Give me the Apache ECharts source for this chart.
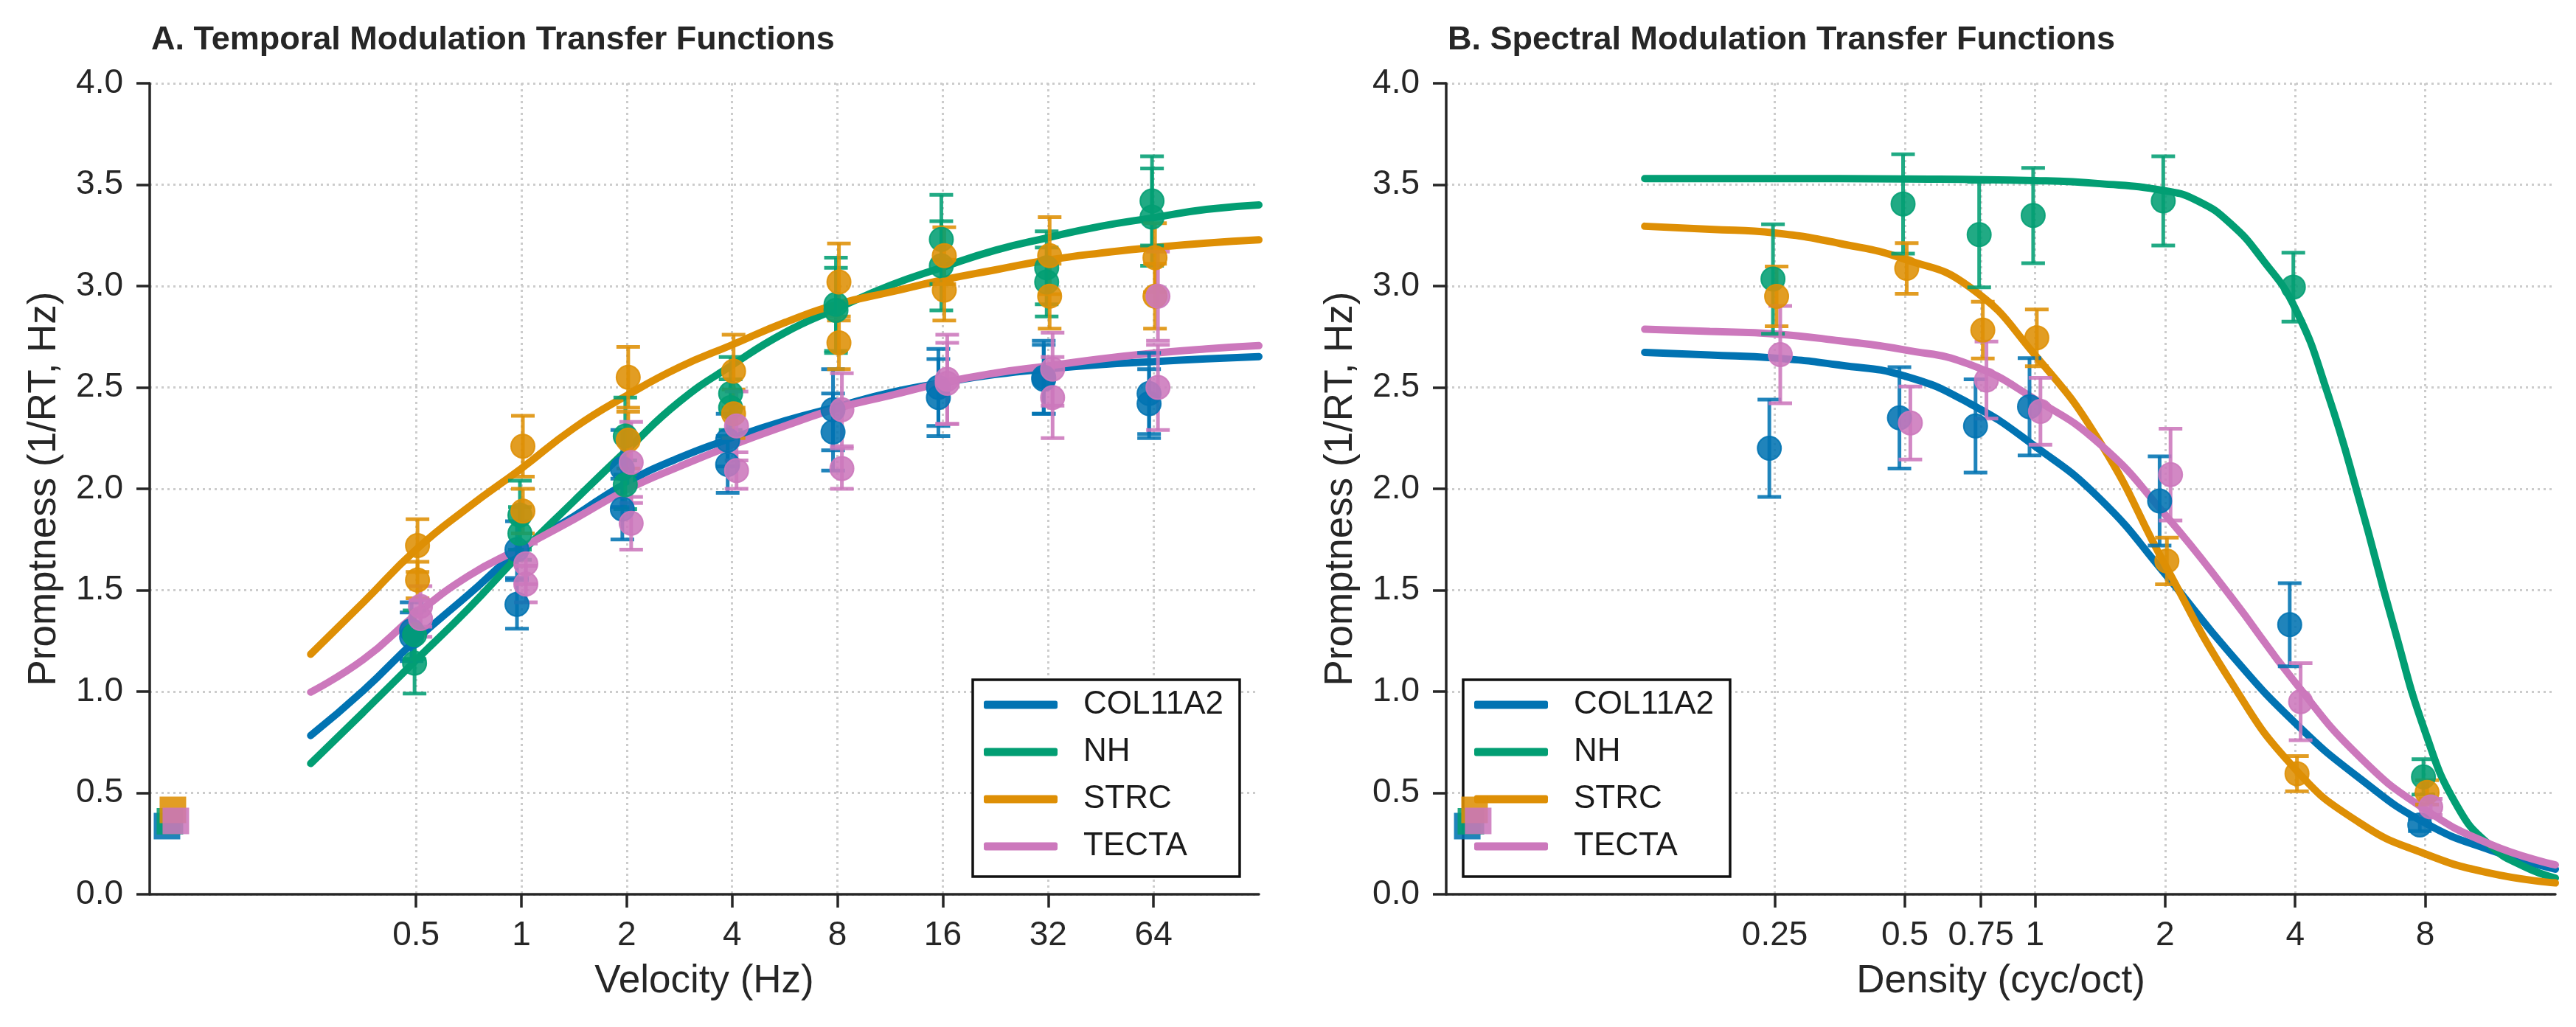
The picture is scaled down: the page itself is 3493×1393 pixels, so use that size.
<!DOCTYPE html>
<html>
<head>
<meta charset="utf-8">
<title>Modulation Transfer Functions</title>
<script src="https://cdn.jsdelivr.net/npm/echarts@6.0.0/dist/echarts.min.js"></script>
<style>
    html, body { margin: 0; padding: 0; background: #fff; }
    #mtfChart { width: 3493px; height: 1393px; }
</style>
</head>
<body>
<div id="mtfChart"></div>
<script>
var groupNames = ['COL11A2', 'NH', 'STRC', 'TECTA'];
var groupColors = ['#0173b2', '#029e73', '#de8f05', '#cc78bc'];

// baseline (unmodulated) promptness, shown as squares in both panels
var baseline = [0.336, 0.36, 0.416, 0.362];
var tmBaselineX = 0.1;
var smBaselineX = 0.05;

// ---- A. temporal: two measurements per velocity ----
var tmVelocity = [0.5, 1, 2, 4, 8, 16, 32, 64];
var tmTicks = [0.5, 1, 2, 4, 8, 16, 32, 64];
var tmCOL11A2 = [[1.30, 1.27], [1.70, 1.43], [2.10, 1.90], [2.24, 2.12], [2.39, 2.28], [2.50, 2.45], [2.55, 2.54], [2.47, 2.42]];
var tmCOL11A2Err = [[0.14, 0.12], [0.14, 0.12], [0.19, 0.15], [0.13, 0.14], [0.20, 0.19], [0.19, 0.19], [0.18, 0.17], [0.20, 0.17]];
var tmNH = [[1.28, 1.14], [1.87, 1.78], [2.26, 2.02], [2.47, 2.40], [2.91, 2.88], [3.23, 3.10], [3.09, 3.02], [3.42, 3.34]];
var tmNHErr = [[0.12, 0.15], [0.17, 0.13], [0.19, 0.12], [0.18, 0.14], [0.23, 0.21], [0.22, 0.22], [0.18, 0.17], [0.22, 0.24]];
var tmSTRC = [[1.72, 1.55], [2.21, 1.89], [2.55, 2.24], [2.58, 2.37], [3.02, 2.72], [3.15, 2.98], [3.15, 2.95], [3.14, 2.95]];
var tmSTRCErr = [[0.13, 0.09], [0.15, 0.11], [0.15, 0.14], [0.18, 0.12], [0.19, 0.13], [0.14, 0.15], [0.19, 0.16], [0.17, 0.16]];
var tmTECTA = [[1.42, 1.36], [1.63, 1.53], [2.13, 1.83], [2.31, 2.09], [2.39, 2.10], [2.54, 2.52], [2.59, 2.45], [2.95, 2.50]];
var tmTECTAErr = [[0.10, 0.09], [0.10, 0.09], [0.20, 0.13], [0.17, 0.09], [0.18, 0.10], [0.22, 0.20], [0.18, 0.20], [0.22, 0.21]];

// fitted curves, read every half octave (x in log2 Hz)
var tmFitOct = [-2, -1.5, -1, -0.5, 0, 0.5, 1, 1.5, 2, 2.5, 3, 3.5, 4, 4.5, 5, 5.5, 6, 6.5, 7];
var tmFitCOL11A2 = [0.783, 1.005, 1.255, 1.479, 1.703, 1.865, 2.03, 2.153, 2.25, 2.335, 2.405, 2.474, 2.523, 2.564, 2.592, 2.613, 2.627, 2.641, 2.652];
var tmFitNH = [0.645, 0.898, 1.155, 1.41, 1.685, 1.94, 2.19, 2.43, 2.61, 2.77, 2.89, 3.003, 3.093, 3.177, 3.239, 3.295, 3.337, 3.378, 3.40];
var tmFitSTRC = [1.184, 1.44, 1.70, 1.91, 2.10, 2.30, 2.46, 2.60, 2.71, 2.82, 2.91, 2.97, 3.03, 3.08, 3.128, 3.163, 3.19, 3.212, 3.228];
var tmFitTECTA = [0.997, 1.158, 1.38, 1.571, 1.71, 1.85, 1.995, 2.11, 2.215, 2.31, 2.397, 2.46, 2.523, 2.571, 2.606, 2.641, 2.669, 2.69, 2.706];

// ---- B. spectral ----
var smDensity = [0.25, 0.5, 0.75, 1, 2, 4, 8];
var smTicks = [0.25, 0.5, 0.75, 1, 2, 4, 8];
var smCOL11A2 = [2.20, 2.35, 2.31, 2.405, 1.94, 1.33, 0.342];
var smCOL11A2Err = [0.24, 0.25, 0.23, 0.24, 0.22, 0.205, 0.03];
var smNH = [3.035, 3.405, 3.254, 3.348, 3.42, 2.995, 0.579];
var smNHErr = [0.27, 0.245, 0.26, 0.235, 0.22, 0.17, 0.087];
var smSTRC = [2.949, 3.087, 2.783, 2.745, 1.644, 0.595, 0.503];
var smSTRCErr = [0.147, 0.125, 0.14, 0.14, 0.115, 0.087, 0.06];
var smTECTA = [2.662, 2.325, 2.536, 2.382, 2.07, 0.95, 0.431];
var smTECTAErr = [0.24, 0.18, 0.19, 0.165, 0.226, 0.19, 0.04];

var smFitOct = [-3, -2.5, -2, -1.5, -1, -0.5, 0, 0.5, 1, 1.5, 2, 2.5, 3, 3.5, 4];
var smFitOctNH = [-3, -2, -1, 0, 0.5, 1, 1.25, 1.5, 1.75, 2, 2.25, 2.5, 2.75, 3, 3.25, 3.5, 3.75, 4];
var smFitCOL11A2 = [2.673, 2.66, 2.645, 2.61, 2.556, 2.42, 2.21, 1.95, 1.58, 1.188, 0.845, 0.57, 0.351, 0.218, 0.124];
var smFitNH = [3.53, 3.53, 3.528, 3.52, 3.505, 3.47, 3.42, 3.31, 3.13, 2.89, 2.47, 1.93, 1.34, 0.80, 0.43, 0.24, 0.14, 0.08];
var smFitSTRC = [3.295, 3.28, 3.262, 3.21, 3.132, 2.994, 2.66, 2.23, 1.625, 1.055, 0.618, 0.351, 0.199, 0.104, 0.056];
var smFitTECTA = [2.787, 2.776, 2.764, 2.73, 2.685, 2.613, 2.442, 2.22, 1.873, 1.473, 1.045, 0.675, 0.418, 0.247, 0.145];

var yTicks = [0, 0.5, 1, 1.5, 2, 2.5, 3, 3.5, 4];


var mtfChart = {};
mtfChart.font = 'Liberation Sans, Arial, sans-serif';
mtfChart.ink = '#262626';
// small horizontal dodge per group, in octaves
mtfChart.jitter = [-0.042, -0.014, 0.014, 0.042];

mtfChart.oct = function (v) {
    return Math.log(v) / Math.LN2;
};

mtfChart.renderErrorBar = function (params, api) {
    var x = api.value(0);
    var top = api.coord([x, api.value(2)]);
    var bottom = api.coord([x, api.value(1)]);
    var half = 16;
    var style = { stroke: api.visual('color'), lineWidth: 5, opacity: 0.88 };
    return {
        type: 'group',
        children: [
            { type: 'line', shape: { x1: top[0], y1: top[1], x2: bottom[0], y2: bottom[1] }, style: style },
            { type: 'line', shape: { x1: top[0] - half, y1: top[1], x2: top[0] + half, y2: top[1] }, style: style },
            { type: 'line', shape: { x1: bottom[0] - half, y1: bottom[1], x2: bottom[0] + half, y2: bottom[1] }, style: style }
        ]
    };
};

mtfChart.panelSeries = function (p, xs, means, errs, fitOct, fits, baseX) {
    var series = [];
    for (var g = 0; g < groupNames.length; g++) {
        var color = groupColors[g];
        var off = mtfChart.jitter[g];
        var curve = [];
        for (var c = 0; c < fitOct[g].length; c++) {
            curve.push([fitOct[g][c], fits[g][c]]);
        }
        series.push({
            name: groupNames[g],
            type: 'line',
            xAxisIndex: p, yAxisIndex: p,
            data: curve,
            smooth: 0.5,
            showSymbol: false,
            silent: true,
            color: color,
            lineStyle: { color: color, width: 10, cap: 'round' },
            z: 2
        });
        var pts = [], bars = [];
        for (var i = 0; i < xs.length; i++) {
            var m = [].concat(means[g][i]);
            var e = [].concat(errs[g][i]);
            for (var k = 0; k < m.length; k++) {
                var x = mtfChart.oct(xs[i]) + off;
                pts.push([x, m[k]]);
                bars.push([x, m[k] - e[k], m[k] + e[k]]);
            }
        }
        series.push({
            name: groupNames[g] + ' sem',
            type: 'custom',
            xAxisIndex: p, yAxisIndex: p,
            renderItem: mtfChart.renderErrorBar,
            encode: { x: 0, y: [1, 2] },
            itemStyle: { color: color },
            data: bars,
            silent: true,
            z: 3
        });
        series.push({
            name: groupNames[g] + ' mean',
            type: 'scatter',
            xAxisIndex: p, yAxisIndex: p,
            symbol: 'circle',
            symbolSize: 32,
            itemStyle: { color: color, opacity: 0.88, borderColor: color, borderWidth: 2 },
            data: pts,
            silent: true,
            z: 4
        });
        series.push({
            name: groupNames[g] + ' baseline',
            type: 'scatter',
            xAxisIndex: p, yAxisIndex: p,
            symbol: 'rect',
            symbolSize: 36,
            itemStyle: { color: color, opacity: 0.88 },
            data: [[mtfChart.oct(baseX) + off, baseline[g]]],
            silent: true,
            z: 10
        });
    }
    return series;
};

mtfChart.xAxis = function (p, min, max, ticks, name) {
    var vals = ticks.map(mtfChart.oct);
    return {
        type: 'value', gridIndex: p, min: min, max: max,
        name: name, nameLocation: 'middle', nameGap: 92,
        nameTextStyle: { fontFamily: mtfChart.font, fontSize: 53, color: mtfChart.ink },
        axisLine: { show: true, onZero: false, lineStyle: { color: mtfChart.ink, width: 3.5 } },
        axisTick: { show: true, customValues: vals, length: 18, lineStyle: { color: mtfChart.ink, width: 3.5 } },
        axisLabel: {
            customValues: vals, margin: 33,
            fontFamily: mtfChart.font, fontSize: 46, color: mtfChart.ink,
            formatter: function (v) { return String(parseFloat(Math.pow(2, v).toFixed(3))); }
        },
        splitLine: { show: true, lineStyle: { color: '#cccccc', width: 3, type: [3, 5] } }
    };
};

mtfChart.yAxis = function (p) {
    return {
        type: 'value', gridIndex: p, min: yTicks[0], max: yTicks[yTicks.length - 1], interval: 0.5,
        name: 'Promptness (1/RT, Hz)', nameLocation: 'middle', nameGap: 116,
        nameTextStyle: { fontFamily: mtfChart.font, fontSize: 53, color: mtfChart.ink },
        axisLine: { show: true, onZero: false, lineStyle: { color: mtfChart.ink, width: 3.5 } },
        axisTick: { show: true, length: 18, lineStyle: { color: mtfChart.ink, width: 3.5 } },
        axisLabel: {
            margin: 36, fontFamily: mtfChart.font, fontSize: 46, color: mtfChart.ink,
            formatter: function (v) { return v.toFixed(1); }
        },
        splitLine: { show: true, lineStyle: { color: '#cccccc', width: 3, type: [3, 5] } }
    };
};

mtfChart.legend = function (left) {
    return {
        data: groupNames,
        orient: 'vertical',
        left: left, top: 922,
        padding: [12, 22, 19, 15],
        itemWidth: 100, itemHeight: 11, itemGap: 20,
        icon: 'roundRect',
        backgroundColor: '#fff',
        borderColor: '#111', borderWidth: 3.5, borderRadius: 0,
        selectedMode: false,
        textStyle: { fontFamily: mtfChart.font, fontSize: 44, lineHeight: 44, color: '#1a1a1a', padding: [0, 0, 0, 30] }
    };
};

mtfChart.render = function () {
    var chart = echarts.init(document.getElementById('mtfChart'), null, { renderer: 'canvas' });
    var series = mtfChart.panelSeries(0, tmVelocity,
        [tmCOL11A2, tmNH, tmSTRC, tmTECTA],
        [tmCOL11A2Err, tmNHErr, tmSTRCErr, tmTECTAErr],
        [tmFitOct, tmFitOct, tmFitOct, tmFitOct],
        [tmFitCOL11A2, tmFitNH, tmFitSTRC, tmFitTECTA], tmBaselineX);
    series = series.concat(mtfChart.panelSeries(1, smDensity,
        [smCOL11A2, smNH, smSTRC, smTECTA],
        [smCOL11A2Err, smNHErr, smSTRCErr, smTECTAErr],
        [smFitOct, smFitOctNH, smFitOct, smFitOct],
        [smFitCOL11A2, smFitNH, smFitSTRC, smFitTECTA], smBaselineX));

    var titleStyle = { fontFamily: mtfChart.font, fontSize: 45, fontWeight: 'bold', color: mtfChart.ink };
    var option = {
        animation: false,
        backgroundColor: '#fff',
        title: [
            { text: 'A. Temporal Modulation Transfer Functions', left: 200, top: 27, textStyle: titleStyle },
            { text: 'B. Spectral Modulation Transfer Functions', left: 1958, top: 27, textStyle: titleStyle }
        ],
        grid: [
            { left: 203, top: 113, width: 1504, height: 1100 },
            { left: 1961, top: 113, width: 1504, height: 1100 }
        ],
        xAxis: [
            mtfChart.xAxis(0, -3.528, 7.0, tmTicks, 'Velocity (Hz)'),
            mtfChart.xAxis(1, -4.526, 4.0, smTicks, 'Density (cyc/oct)')
        ],
        yAxis: [mtfChart.yAxis(0), mtfChart.yAxis(1)],
        legend: [mtfChart.legend(1319), mtfChart.legend(1984)],
        series: series
    };
    chart.setOption(option);
};

mtfChart.render();
</script>
</body>
</html>
